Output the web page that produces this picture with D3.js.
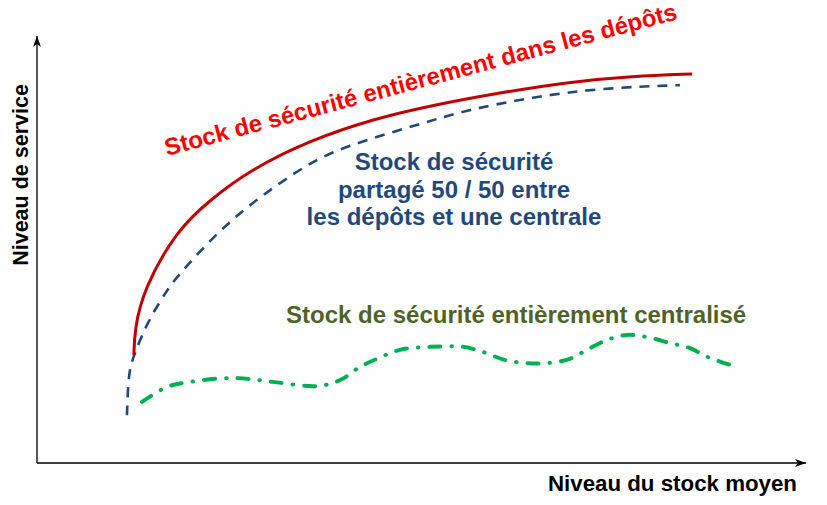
<!DOCTYPE html>
<html>
<head>
<meta charset="utf-8">
<script src="https://cdn.jsdelivr.net/npm/d3@7"></script>
<style>
  body { margin: 0; background: #fff; }
  text { font-family: "Liberation Sans", Arial, sans-serif; font-weight: bold; }
</style>
</head>
<body>
<div class="chart"></div>
<script>
// niveau de service vs niveau du stock moyen (0-100 on both axes)

var depotsX = [12.6, 12.7, 13.8, 18.2, 22.5, 27.7, 35.5, 44.2, 51.5, 60.2, 68.9, 77.5, 85.2];
var depotsY = [25.3, 31.2, 40.5, 54.6, 61.6, 68.6, 75.6, 80.8, 83.8, 86.7, 89.2, 90.6, 91.1];

var partageX = [11.7, 11.9, 12.74, 14.3, 16.9, 18.2, 22.5, 26.8, 31.2, 35.5, 39.8, 48.5, 55.9, 64.5, 73.2, 83.6];
var partageY = [11.2, 21.8, 25.8, 32.8, 40.5, 43.6, 52.2, 59.3, 65.1, 70.3, 74.0, 78.7, 82.7, 85.7, 87.8, 88.5];

var centralX = [13.65, 16.9, 19.9, 25.5, 30.7, 36.4, 39.4, 42.0, 44.2, 47.2, 51.1, 55.4, 58.0, 60.9, 63.7, 66.4, 69.3, 71.7, 74.1, 76.7, 79.3, 82.3, 84.9, 87.5, 91.0];
var centralY = [14.3, 17.8, 19.0, 19.9, 19.0, 18.0, 19.4, 22.5, 24.4, 26.5, 27.2, 27.2, 26.0, 24.1, 23.4, 23.4, 24.4, 26.7, 28.8, 30.0, 29.5, 28.1, 26.9, 24.6, 22.5];

var titreDepots = 'Stock de sécurité entièrement dans les dépôts';
var titrePartage = ['Stock de sécurité', 'partagé 50 / 50 entre', 'les dépôts et une centrale'];
var titreCentral = 'Stock de sécurité entièrement centralisé';
var axeX = 'Niveau du stock moyen';
var axeY = 'Niveau de service';

var W = 827, H = 505;
var x = d3.scaleLinear().domain([0, 100]).range([37, 806]);
var y = d3.scaleLinear().domain([0, 100]).range([463, 36]);

var svg = d3.select('.chart')
  .append('svg')
    .attr('width', W)
    .attr('height', H);

svg.append('defs').append('marker')
    .attr('id', 'fleche')
    .attr('viewBox', '0 0 12 10')
    .attr('refX', 11)
    .attr('refY', 5)
    .attr('markerWidth', 12)
    .attr('markerHeight', 10)
    .attr('markerUnits', 'userSpaceOnUse')
    .attr('orient', 'auto')
  .append('path')
    .attr('d', 'M0,1 L11,5 L0,9 L3,5 Z')
    .attr('fill', '#000');

// axes
svg.append('line')
    .attr('x1', x(0)).attr('y1', y(0))
    .attr('x2', x(100)).attr('y2', y(0))
    .attr('stroke', '#000').attr('stroke-width', 1.3)
    .attr('marker-end', 'url(#fleche)');
svg.append('line')
    .attr('x1', x(0)).attr('y1', y(0))
    .attr('x2', x(0)).attr('y2', y(100))
    .attr('stroke', '#000').attr('stroke-width', 1.3)
    .attr('marker-end', 'url(#fleche)');

var smooth = d3.line()
  .x(d => x(d[0]))
  .y(d => y(d[1]))
  .curve(d3.curveBasis);

var wavy = d3.line()
  .x(d => x(d[0]))
  .y(d => y(d[1]))
  .curve(d3.curveCatmullRom.alpha(0.5));

svg.append('path')
    .datum(d3.zip(centralX, centralY))
    .attr('d', wavy)
    .attr('fill', 'none')
    .attr('stroke', '#00B050')
    .attr('stroke-width', 4)
    .attr('stroke-linecap', 'round')
    .attr('stroke-dasharray', '11,11,0.5,11');

svg.append('path')
    .datum(d3.zip(partageX, partageY))
    .attr('d', smooth)
    .attr('fill', 'none')
    .attr('stroke', '#1F497D')
    .attr('stroke-width', 2.6)
    .attr('stroke-dasharray', '10,8');

svg.append('path')
    .datum(d3.zip(depotsX, depotsY))
    .attr('d', smooth)
    .attr('fill', 'none')
    .attr('stroke', '#C00000')
    .attr('stroke-width', 3);

// labels
svg.append('text')
    .attr('transform', 'translate(167,156) rotate(-15)')
    .attr('fill', '#FF0000')
    .style('font-size', '24px')
    .text(titreDepots);

svg.append('g')
  .selectAll('text')
  .data(titrePartage)
  .enter()
    .append('text')
    .attr('x', 454)
    .attr('y', (d, i) => 170 + i * 27.5)
    .attr('text-anchor', 'middle')
    .attr('fill', '#1F497D')
    .style('font-size', '24px')
    .text(d => d);

svg.append('text')
    .attr('x', 286).attr('y', 323)
    .attr('fill', '#4F6228')
    .style('font-size', '24px')
    .text(titreCentral);

svg.append('text')
    .attr('x', 797).attr('y', 491)
    .attr('text-anchor', 'end')
    .attr('fill', '#000')
    .style('font-size', '22.3px')
    .text(axeX);

svg.append('text')
    .attr('transform', 'translate(28,175) rotate(-90)')
    .attr('text-anchor', 'middle')
    .attr('fill', '#000')
    .style('font-size', '21.5px')
    .text(axeY);
</script>
</body>
</html>
